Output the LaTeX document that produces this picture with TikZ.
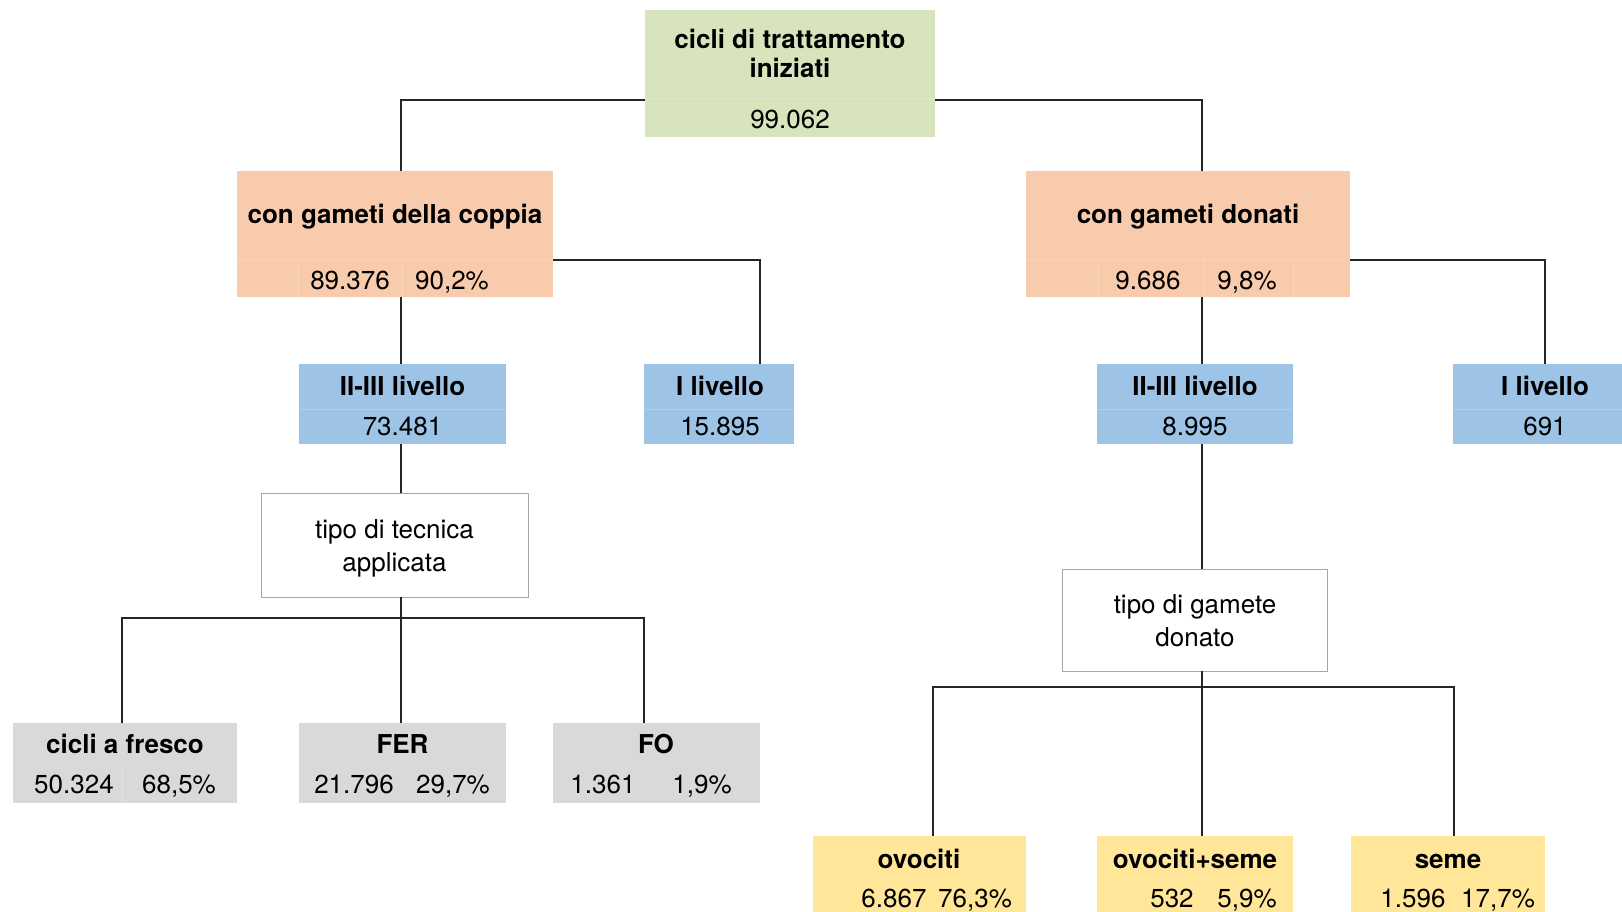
\documentclass[tikz,border=0pt]{standalone}
\usepackage{fontspec}
\setmainfont{TeX Gyre Heros}
\usetikzlibrary{calc}
\definecolor{verde}{HTML}{D8E4BC}
\definecolor{pesca}{HTML}{F8CBAD}
\definecolor{azzurro}{HTML}{9DC3E6}
\definecolor{grigio}{HTML}{D9D9D9}
\definecolor{giallo}{HTML}{FFE699}
\definecolor{bordo}{HTML}{A6A6A6}
\definecolor{linea}{HTML}{262626}
\tikzset{
  box/.style={rectangle, inner sep=0pt, outer sep=0pt},
  titolo/.style={anchor=base, inner sep=0pt, font=\bfseries\fontsize{26}{31}\selectfont},
  valore/.style={anchor=base, inner sep=0pt, font=\fontsize{26}{31}\selectfont},
  link/.style={draw=linea, line width=1.6pt},
  cella/.style={draw=white, opacity=0.2, line width=1pt}
}

\begin{document}
\begin{tikzpicture}[x=1pt, y=-1pt]
    \useasboundingbox (0,0) rectangle (1622,912);
    \clip (0,0) rectangle (1622,912);

    % riquadri
    \node [box, fill=verde, minimum width=290, minimum height=127] (top) at (790,73.5) {};
    \node [box, fill=pesca, minimum width=316, minimum height=126] (coppia) at (395,234) {};
    \node [box, fill=pesca, minimum width=324, minimum height=126] (donati) at (1188,234) {};
    \node [box, fill=azzurro, minimum width=207, minimum height=80] (liv23a) at (402.5,404) {};
    \node [box, fill=azzurro, minimum width=150, minimum height=80] (liv1a) at (719,404) {};
    \node [box, fill=azzurro, minimum width=196, minimum height=80] (liv23b) at (1195,404) {};
    \node [box, fill=azzurro, minimum width=184, minimum height=80] (liv1b) at (1545,404) {};
    \node [box, draw=bordo, line width=1pt, fill=white, minimum width=267, minimum height=104] (tecnica) at (394.5,545) {};
    \node [box, draw=bordo, line width=1pt, fill=white, minimum width=265, minimum height=102] (gamete) at (1194.5,620) {};
    \node [box, fill=grigio, minimum width=224, minimum height=80] (fresco) at (125,763) {};
    \node [box, fill=grigio, minimum width=207, minimum height=80] (fer) at (402.5,763) {};
    \node [box, fill=grigio, minimum width=207, minimum height=80] (fo) at (656.5,763) {};
    \node [box, fill=giallo, minimum width=213, minimum height=80] (ovo) at (919.5,876) {};
    \node [box, fill=giallo, minimum width=196, minimum height=80] (ovoseme) at (1195,876) {};
    \node [box, fill=giallo, minimum width=194, minimum height=80] (seme) at (1448,876) {};

    % celle interne
    \draw [cella] ($(top.south west)+(0,-38)$) -- ($(top.south east)+(0,-38)$);
    \draw [cella] ($(coppia.south west)+(0,-38)$) -- ($(coppia.south east)+(0,-38)$);
    \draw [cella] ($(coppia.south west)+(61,0)$) -- +(0,-38);
    \draw [cella] ($(coppia.south west)+(165,0)$) -- +(0,-38);
    \draw [cella] ($(donati.south west)+(0,-38)$) -- ($(donati.south east)+(0,-38)$);
    \draw [cella] ($(donati.south west)+(72,0)$) -- +(0,-38);
    \draw [cella] ($(donati.south west)+(177,0)$) -- +(0,-38);
    \draw [cella] ($(donati.south west)+(267,0)$) -- +(0,-38);
    \foreach \b in {liv23a,liv1a,liv23b,liv1b}
        \draw [cella] ($(\b.south west)+(0,-35)$) -- ($(\b.south east)+(0,-35)$);
    \draw [cella] ($(fresco.south west)+(109,0)$) -- +(0,-38);

    % testi
    \node [titolo] (t-top1) at (790,49) {cicli di trattamento};
    \node [titolo] (t-top2) at (790,78) {iniziati};
    \node [valore] (n-top) at (790,129) {99.062};
    \node [titolo] (t-coppia) at (395,224) {con gameti della coppia};
    \node [valore] (n-coppia) at (350,289) {89.376};
    \node [valore] (p-coppia) at (452,289) {90,2\%};
    \node [titolo] (t-donati) at (1188,224) {con gameti donati};
    \node [valore] (n-donati) at (1148,289) {9.686};
    \node [valore] (p-donati) at (1247,289) {9,8\%};
    \node [titolo] (t-liv23a) at (402.5,395) {II-III livello};
    \node [valore] (n-liv23a) at (402.5,435) {73.481};
    \node [titolo] (t-liv1a) at (720,395) {I livello};
    \node [valore] (n-liv1a) at (720,435) {15.895};
    \node [titolo] (t-liv23b) at (1195,395) {II-III livello};
    \node [valore] (n-liv23b) at (1195,435) {8.995};
    \node [titolo] (t-liv1b) at (1545,395) {I livello};
    \node [valore] (n-liv1b) at (1545,435) {691};
    \node [valore] (t-tecnica1) at (394.5,538) {tipo di tecnica};
    \node [valore] (t-tecnica2) at (394.5,571) {applicata};
    \node [valore] (t-gamete1) at (1195,613) {tipo di gamete};
    \node [valore] (t-gamete2) at (1195,646) {donato};
    \node [titolo] (t-fresco) at (125,753) {cicli a fresco};
    \node [valore] (n-fresco) at (74,793) {50.324};
    \node [valore] (p-fresco) at (179,793) {68,5\%};
    \node [titolo] (t-fer) at (402.5,753) {FER};
    \node [valore] (n-fer) at (354,793) {21.796};
    \node [valore] (p-fer) at (453,793) {29,7\%};
    \node [titolo] (t-fo) at (656,753) {FO};
    \node [valore] (n-fo) at (603,793) {1.361};
    \node [valore] (p-fo) at (702,793) {1,9\%};
    \node [titolo] (t-ovo) at (919,868) {ovociti};
    \node [valore] (n-ovo) at (894,907) {6.867};
    \node [valore] (p-ovo) at (975,907) {76,3\%};
    \node [titolo] (t-ovoseme) at (1195,868) {ovociti+seme};
    \node [valore] (n-ovoseme) at (1172,907) {532};
    \node [valore] (p-ovoseme) at (1247,907) {5,9\%};
    \node [titolo] (t-seme) at (1448,868) {seme};
    \node [valore] (n-seme) at (1413,907) {1.596};
    \node [valore] (p-seme) at (1498,907) {17,7\%};

    % collegamenti
    \coordinate (cs) at ($(coppia.south)+(6,0)$);
    \coordinate (ds) at ($(donati.south)+(14,0)$);
    \coordinate (busa) at ($(tecnica.south -| cs)+(0,21)$);
    \coordinate (busb) at ($(gamete.south -| ds)+(0,16)$);
    \draw [link] ($(top.west)+(0,26.5)$) -| ($(coppia.north)+(6,0)$);
    \draw [link] ($(top.east)+(0,26.5)$) -| ($(donati.north)+(14,0)$);
    \draw [link] (cs) -- (cs |- liv23a.north);
    \draw [link] ($(coppia.east)+(0,26)$) -| ($(liv1a.north)+(41,0)$);
    \draw [link] (ds) -- (ds |- liv23b.north);
    \draw [link] ($(donati.east)+(0,26)$) -| (liv1b.north);
    \draw [link] (cs |- liv23a.south) -- (cs |- tecnica.north);
    \draw [link] (cs |- tecnica.south) -- (busa);
    \draw [link] ($(fresco.north)+(-3,0)$) |- (busa) -| ($(fo.north)+(-12.5,0)$);
    \draw [link] (busa) -- (busa |- fer.north);
    \draw [link] (ds |- liv23b.south) -- (ds |- gamete.north);
    \draw [link] (ds |- gamete.south) -- (busb);
    \draw [link] ($(ovo.north)+(13.5,0)$) |- (busb) -| ($(seme.north)+(6,0)$);
    \draw [link] (busb) -- (busb |- ovoseme.north);
\end{tikzpicture}
\end{document}
